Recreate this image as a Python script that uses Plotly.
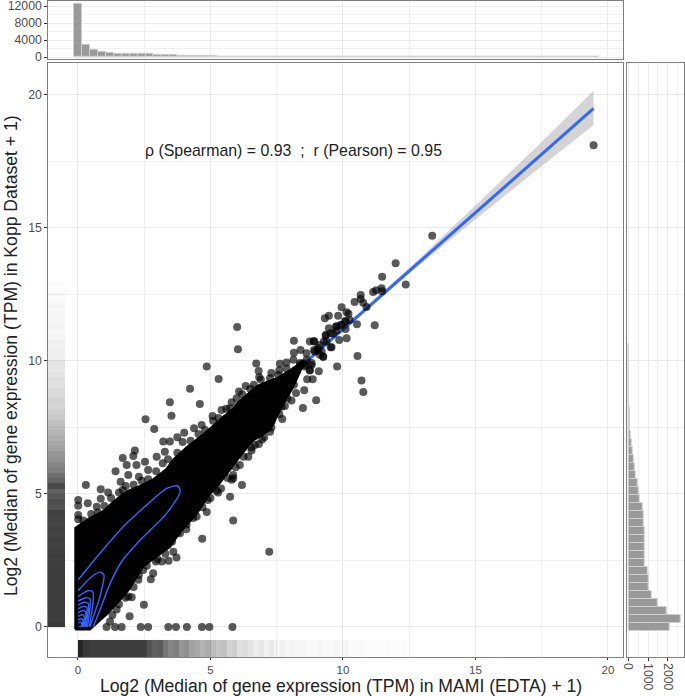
import plotly.graph_objects as go

W, H = 685, 696

# Dense black core of the scatter, outline
cloud_x = [-0.1,-0.1,0.08,0.45,0.95,1.32,1.84,2.34,2.84,3.35,3.6,4.1,4.42,4.98,5.48,5.86,6.0,6.4,6.75,7.1,7.51,8.0,8.5,
           8.5,8.11,7.74,7.25,6.6,6.11,5.74,5.23,4.98,4.48,3.85,3.47,2.83,2.45,1.96,1.58,1.09,0.45,-0.1]
cloud_y = [-0.1,3.72,3.85,4.1,4.35,4.7,5.1,5.3,5.55,5.95,6.3,6.75,7.0,7.45,7.9,8.2,8.4,8.75,9.05,9.2,9.35,9.65,10.0,
           9.85,9.0,8.35,7.4,7.0,6.4,5.9,5.25,5.0,4.25,3.55,3.0,2.55,2.25,1.45,1.0,0.48,-0.1,-0.1]

# Individually visible points
points_x = [1.08,1.4,1.65,2.37,2.65,3.41,3.7,4.11,4.68,4.96,5.83,
            2.49,1.95,1.21,1.46,4.69,4.09,3.85,3.72,3.6,3.42,3.16,2.94,2.75,2.84,2.46,2.28,1.9,2.03,5.86,
            7.22,5.74,6.19,5.86,5.8,6.11,6.43,6.55,6.83,6.68,7.03,7.25,5.29,
            3.47,4.6,2.55,3.53,2.88,5.08,4.01,4.67,4.38,3.22,3.47,3.75,2.15,2.09,1.69,1.84,2.21,1.42,2.53,2.65,2.97,3.28,1.9,2.3,1.61,0.3,0.86,1.14,1.69,0.01,0.01,0.37,0.71,0.86,4.86,4.48,4.25,4.9,5.23,5.86,0.01,0.01,
            6.01,6.04,4.86,5.31,4.23,6.73,6.82,6.84,8.15,7.62,7.87,8.15,8.4,8.75,8.9,8.63,7.25,7.56,9.78,9.09,8.75,8.65,8.86,8.54,8.23,8.06,8.99,8.49,7.81,7.69,7.71,7.31,7.12,7.56,6.33,6.64,6.08,5.99,5.74,5.42,
            9.32,9.47,9.82,10.14,9.47,9.76,9.95,10.1,9.36,9.63,9.86,10.14,9.28,9.57,9.26,9.07,8.82,8.5,8.25,
            13.37,11.99,12.37,11.48,11.46,11.25,11.14,11.48,10.67,10.67,10.44,10.77,10.89,9.95,10.21,10.26,10.08,10.53,11.2,9.91,9.74,10.1,9.76,9.54,9.35,8.92,9.38,9.13,9.54,8.91,9.2,10.55,10.7,10.77,8.75,19.46]
points_y = [0,0,0,0,0,0,0,0,0,0,0,
            0.83,0.4,0.2,0.66,3.32,3.67,3.52,2.61,2.83,2.49,2.46,2.46,1.79,2.02,2.14,1.77,1.14,1.12,4.0,
            2.83,4.89,5.34,5.71,5.53,6.09,6.4,6.63,6.88,6.84,7.13,7.34,5.05,
            8.45,8.38,7.81,7.94,7.44,7.93,7.3,7.59,7.47,6.97,6.97,7.13,6.63,6.43,6.35,6.09,6.09,5.85,6.21,5.9,6.4,6.59,5.71,5.65,5.46,5.34,5.18,5.05,5.15,4.77,4.56,4.65,4.52,4.82,4.32,4.15,4.21,4.77,5.12,5.59,4.21,4.05,
            11.28,10.44,9.79,9.32,8.95,9.9,9.62,9.39,10.76,9.89,9.94,10.31,10.41,10.73,10.75,10.29,9.35,9.47,9.79,9.61,9.64,9.31,9.31,8.9,8.79,8.51,8.52,8.23,8.31,8.28,7.82,7.72,8.35,8.53,9.06,9.1,8.85,8.6,8.22,8.16,
            11.6,11.7,11.7,11.83,11.23,11.29,11.35,11.48,10.98,11.02,10.79,10.85,10.73,10.51,10.16,10.41,9.85,9.91,9.6,
            14.71,13.67,12.87,13.16,12.73,12.66,12.59,12.62,12.48,12.33,12.22,12.19,12.03,12.02,11.77,11.54,11.5,11.38,11.34,11.35,11.29,11.2,11.14,11.04,10.95,10.73,10.73,10.6,10.51,10.41,10.35,10.19,9.26,8.83,9.66,18.11]

# Points crowding the edges of the dense core
edge_x = [0.2,0.5,0.75,1.0,1.25,1.55,1.8,2.1,2.4,2.65,2.95,3.2,3.4,3.75,3.95,4.25,4.55,4.8,5.1,5.3,5.6,5.8,6.2,6.5,6.9,7.3,7.6,
          1.3,1.55,1.8,2.1,2.3,2.6,3.0,3.3,3.55,3.75,4.1,4.35,4.7,5.0,5.4,5.65,5.95,6.25,6.55,6.95,7.3,7.6,7.9,8.15,
          8.13,8.38,8.57,7.87,8.06,8.57,8.38,8.63,8.82,9.13,9.25,9.06,8.94]
edge_y = [4.0,4.25,4.3,4.55,4.85,5.05,5.3,5.35,5.5,5.55,5.85,6.15,6.3,6.55,6.95,7.0,7.25,7.4,7.75,7.85,8.2,8.45,8.75,8.95,9.3,9.55,9.65,
          0.45,0.85,1.1,1.5,1.95,2.3,2.55,2.75,3.2,3.55,3.85,4.1,4.5,4.85,5.2,5.6,6.0,6.4,6.75,7.05,7.5,8.0,8.6,9.1,
          10.04,9.85,9.85,9.72,9.54,9.79,9.92,10.04,9.92,10.23,10.16,10.49,10.35]

# Regression line and its confidence ribbon
fit_x = [0.0, 19.46]
fit_y = [2.41, 19.49]
ribbon_x = [8.0,12.9,15.17,17.4,19.46,19.46,17.4,15.17,12.9,8.0]
ribbon_y = [9.46,13.86,16.0,18.14,20.16,18.87,17.24,15.46,13.62,9.4]

# Density contours
contours = [
    ([0.01,0.83,1.71,2.59,3.35,3.76,3.86,3.35,2.34,1.65,1.21,0.83,0.58],
     [1.77,2.77,3.77,4.58,5.21,5.3,5.09,4.27,3.26,2.46,1.62,0.64,0.01]),
    ([0.01,0.45,0.83,0.98,0.83,0.45],[1.36,1.83,2.06,1.95,1.14,0.01]),
    ([0.0,0.38,0.55,0.58,0.43],[1.14,1.36,1.33,1.02,0.01]),
    ([0.0,0.3,0.46,0.45,0.36],[0.97,1.1,1.05,0.7,0.0]),
    ([0.0,0.25,0.4,0.38,0.31],[0.82,0.93,0.88,0.55,0.0]),
    ([0.0,0.22,0.34,0.32,0.27],[0.68,0.78,0.72,0.45,0.0]),
    ([0.0,0.18,0.29,0.28,0.23],[0.53,0.62,0.57,0.32,0.0]),
    ([0.0,0.15,0.24,0.22,0.19],[0.4,0.46,0.4,0.2,0.0]),
    ([0.0,0.12,0.19,0.17,0.15],[0.27,0.31,0.26,0.12,0.0]),
    ([0.02,0.1,0.14,0.12,0.02],[0.15,0.18,0.13,0.02,0.02]),
]

# Marginal histograms
top_bins = [i * 0.3 for i in range(66)]
top_counts = [12600,2870,1650,1250,950,850,800,760,720,680,640,560,480,400,330,280,240,200,170,140,120,100,85,70,60,50,40,35,30,25,20,15,12,10,8,6,5,4,3,2,
              2,1,1,1,1,1,1,0,0,0,0,0,0,0,0,0,0,0,0,0,0,0,0,0,0,1]
right_bins = [i * 0.3 for i in range(36)]
right_counts = [2100,2680,1930,1490,1200,1030,1010,975,855,855,855,840,820,790,770,735,600,530,460,375,310,255,205,155,120,90,70,55,40,30,25,20,15,10,8,6]

# Rug-like density strips
rug_x = [0.1 + 0.2*i for i in range(62)]
rug_x_alpha = [.98,.9,.88,.88,.88,.88,.88,.88,.88,.88,.88,.88,.88,.78,.72,.74,.62,.55,.58,.48,.5,.42,.4,.34,.38,.3,.26,.28,.2,.22,.14,.16,.12,.08,.1,.06,.1,.05,.07,.04,.05,.04,.04,.03,.03,.04,.03,.03,.04,.03,.04,.02,.02,.03,.02,.02,.02,.01,.02,.01,.01,.01]
rug_y = [0.1 + 0.2*i for i in range(65)]
rug_y_alpha = [.9,.88,.88,.88,.88,.88,.88,.88,.88,.88,.88,.88,.87,.88,.87,.86,.87,.85,.86,.84,.85,.86,.78,.8,.76,.72,.82,.7,.66,.58,.55,.5,.47,.42,.4,.36,.33,.3,.28,.24,.22,.19,.2,.17,.16,.14,.15,.12,.11,.12,.07,.08,.06,.07,.05,.04,.05,.04,.04,.03,.04,.02,.03,.02,.02]

x_ticks = [0,5,10,15,20]
y_ticks = [0,5,10,15,20]
top_ticks = [0,4000,8000,12000]
right_ticks = [0,1000,2000]

BLUE = "#3366FF"
fig = go.Figure()

fig.add_trace(go.Heatmap(x=rug_x, y=[-1.13,-0.49], z=[rug_x_alpha], zmin=0, zmax=1, showscale=False,
                         colorscale=[[0,"rgba(34,34,34,0)"],[1,"rgba(34,34,34,1)"]], xaxis="x", yaxis="y"))
fig.add_trace(go.Heatmap(x=[-1.13,-0.47], y=rug_y, z=[[a] for a in rug_y_alpha], zmin=0, zmax=1, showscale=False,
                         colorscale=[[0,"rgba(34,34,34,0)"],[1,"rgba(34,34,34,1)"]], xaxis="x", yaxis="y"))

fig.add_trace(go.Scatter(x=ribbon_x, y=ribbon_y, fill="toself", fillcolor="rgba(153,153,153,0.42)",
                         mode="none", xaxis="x", yaxis="y"))
fig.add_trace(go.Scatter(x=fit_x, y=fit_y, mode="lines", line=dict(color=BLUE, width=3), xaxis="x", yaxis="y"))
fig.add_trace(go.Scatter(x=cloud_x, y=cloud_y, mode="lines", fill="toself", fillcolor="black",
                         line=dict(color="black", width=2), xaxis="x", yaxis="y"))
fig.add_trace(go.Scatter(x=points_x, y=points_y, mode="markers",
                         marker=dict(color="rgba(0,0,0,0.65)", size=8, line=dict(width=0)), xaxis="x", yaxis="y"))
fig.add_trace(go.Scatter(x=edge_x, y=edge_y, mode="markers",
                         marker=dict(color="rgba(0,0,0,0.65)", size=8, line=dict(width=0)), xaxis="x", yaxis="y"))
for cx, cy in contours:
    fig.add_trace(go.Scatter(x=cx, y=cy, mode="lines", line=dict(color=BLUE, width=1.4, shape="spline", smoothing=0.7),
                             xaxis="x", yaxis="y"))

fig.add_trace(go.Bar(x=top_bins, y=top_counts, width=0.3, marker=dict(color="#999999", line=dict(color="#cfcfcf", width=1)),
                     xaxis="x2", yaxis="y2"))
fig.add_trace(go.Bar(y=right_bins, x=right_counts, width=0.3, orientation="h",
                     marker=dict(color="#999999", line=dict(color="#cfcfcf", width=1)), xaxis="x3", yaxis="y3"))

GRID = "#ebebeb"
BORDER = "#7f7f7f"
TICK = dict(family="Liberation Sans", size=12.3, color="#4d4d4d")
SMALL_TICK = dict(family="Liberation Sans", size=11.5, color="#4d4d4d")
common = dict(showline=True, linecolor=BORDER, linewidth=1.3, mirror=True, zeroline=False, gridcolor=GRID, gridwidth=1,
              ticks="outside", ticklen=2.5, tickcolor="#333333", tickwidth=1, tickfont=TICK, tickformat="d", automargin=False,
              ticklabeloverflow="allow")
minor = dict(showgrid=True, gridcolor="#f0f0f0", gridwidth=0.7, ticks="")

fx = lambda a: a / W
fy = lambda a: (H - a) / H
XR = [-1.13, 20.57]
YR = [-1.13, 21.2]
TITLE = dict(family="Liberation Sans", size=17.6, color="#222222")

fig.update_layout(
    width=W, height=H, margin=dict(l=0, r=0, t=0, b=0, autoexpand=False), paper_bgcolor="white", plot_bgcolor="white",
    showlegend=False, bargap=0,
    xaxis=dict(domain=[fx(48), fx(623)], range=XR, tickvals=x_ticks, minor=dict(dtick=2.5, **minor), anchor="y",
               **{**common, "tickfont": SMALL_TICK, "ticklen": 2}),
    yaxis=dict(domain=[fy(657), fy(63)], range=YR, tickvals=y_ticks, minor=dict(dtick=2.5, **minor), anchor="x", **common),
    xaxis2=dict(domain=[fx(48), fx(623)], range=XR, tickvals=x_ticks, showticklabels=False, minor=dict(dtick=2.5, **minor),
                anchor="y2", **{**common, "ticks": ""}),
    yaxis2=dict(domain=[fy(59), fy(0.8)], range=[-465, 13250], tickvals=top_ticks, minor=dict(dtick=2000, **minor), anchor="x2", **common),
    xaxis3=dict(domain=[fx(626.7), fx(683.5)], range=[-80, 2800], tickvals=right_ticks, tickangle=90, minor=dict(dtick=500, **minor), anchor="y3", **common),
    yaxis3=dict(domain=[fy(657), fy(63)], range=YR, tickvals=y_ticks, showticklabels=False, minor=dict(dtick=2.5, **minor),
                anchor="x3", **{**common, "ticks": ""}),
    annotations=[
        dict(text="ρ (Spearman) = 0.93  ;  r (Pearson) = 0.95", x=fx(293), y=fy(150), xref="paper", yref="paper",
             xanchor="center", yanchor="middle", showarrow=False,
             font=dict(family="Liberation Sans", size=15.9, color="#222222")),
        dict(text="Log2 (Median of gene expression (TPM) in MAMI (EDTA) + 1)", x=fx(341), y=fy(685.5), xref="paper", yref="paper",
             xanchor="center", yanchor="middle", showarrow=False, font=TITLE),
        dict(text="Log2 (Median of gene expression (TPM) in Kopp Dataset + 1)", x=fx(11), y=fy(356), xref="paper", yref="paper",
             xanchor="center", yanchor="middle", textangle=-90, showarrow=False, font=TITLE),
    ],
)
fig.write_html("out.html", post_script="document.body.style.margin='0';", config=dict(displayModeBar=False))
